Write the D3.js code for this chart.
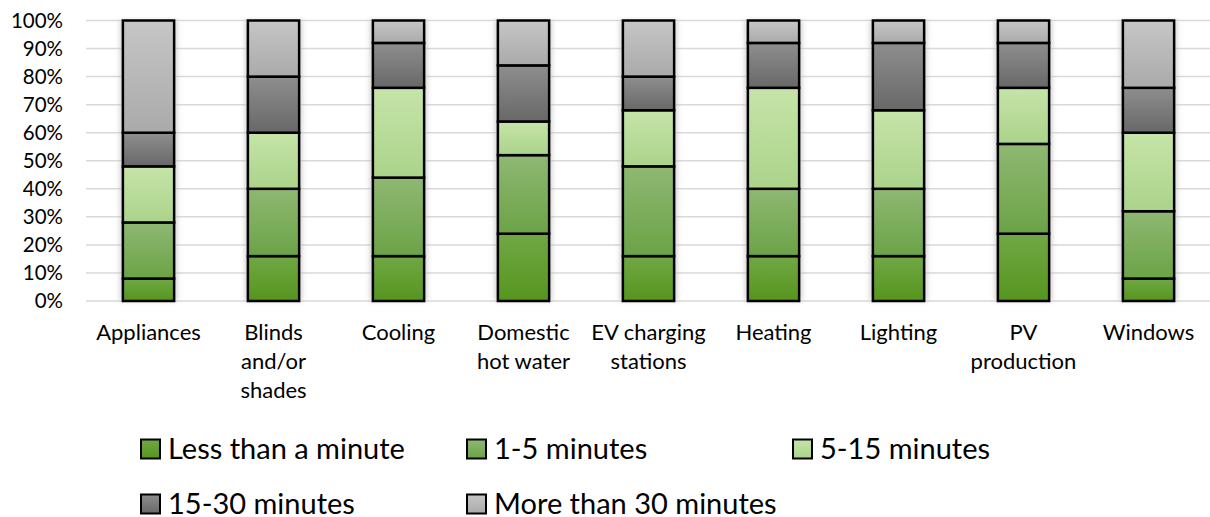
<!DOCTYPE html>
<html><head><meta charset="utf-8">
<script src="https://cdn.jsdelivr.net/npm/d3@7"></script>
<style>body{margin:0;background:#fff;}svg{display:block;font-family:Lato,"Open Sans",sans-serif;}</style>
</head><body>
<svg id="chart" width="1210" height="517"></svg>
<script>
const categories = ["Appliances","Blinds and/or shades","Cooling","Domestic hot water","EV charging stations","Heating","Lighting","PV production","Windows"];
const seriesNames = ["Less than a minute","1-5 minutes","5-15 minutes","15-30 minutes","More than 30 minutes"];
const lessThanMinute = [8,16,16,24,16,16,16,24,8];
const oneToFive      = [20,24,28,28,32,24,24,32,24];
const fiveToFifteen  = [20,20,32,12,20,36,28,20,28];
const fifteenToThirty= [12,20,16,20,12,16,24,16,16];
const moreThanThirty = [40,20,8,16,20,8,8,8,24];
const yTicks = [0,10,20,30,40,50,60,70,80,90,100];
const seriesValues = [lessThanMinute, oneToFive, fiveToFifteen, fifteenToThirty, moreThanThirty];
const gradStops = [["#70a845","#56951e"],["#8fb873","#6ba346"],["#c6e4a9","#abd38a"],["#8e8e8e","#686868"],["#c6c6c6","#aaaaaa"]];

(function(){
const svg = d3.select("#chart");
const mLeft = 86, mRight = 1211, mTop = 20.5, mBottom = 301;
const x = d3.scaleBand().domain(categories).range([mLeft, mRight]).paddingInner(0.59).paddingOuter(0.295);
const y = d3.scaleLinear().domain([0,100]).range([mBottom, mTop]);

const defs = svg.append("defs");
gradStops.forEach((g,i)=>{
  const lg = defs.append("linearGradient").attr("id","g"+i).attr("x1",0).attr("y1",0).attr("x2",0).attr("y2",1);
  lg.append("stop").attr("offset","0%").attr("stop-color",g[0]);
  lg.append("stop").attr("offset","100%").attr("stop-color",g[1]);
});
const f = defs.append("filter").attr("id","blur").attr("x","-50%").attr("y","-10%").attr("width","200%").attr("height","120%");
f.append("feGaussianBlur").attr("stdDeviation",2.5);

// gridlines
svg.append("g").selectAll("line").data(yTicks).join("line")
  .attr("x1",mLeft).attr("x2",1210).attr("y1",d=>y(d)).attr("y2",d=>y(d))
  .attr("stroke","#d9d9d9").attr("stroke-width",1.5);

// y labels
svg.append("g").selectAll("text").data(yTicks).join("text")
  .attr("x",63).attr("y",d=>y(d)).attr("dy","0.35em").attr("text-anchor","end")
  .attr("font-size",20.5).attr("fill","#000").text(d=>d+"%");

// stacked data
const rows = categories.map((c,i)=>{const o={cat:c}; seriesNames.forEach((s,j)=>o[s]=seriesValues[j][i]); return o;});
const stack = d3.stack().keys(seriesNames)(rows);

// shadows
svg.append("g").selectAll("rect").data(categories).join("rect")
  .attr("x",d=>x(d)-3).attr("width",x.bandwidth()+6).attr("y",y(100)).attr("height",y(0)-y(100))
  .attr("fill","#bbbbbb").attr("filter","url(#blur)").attr("opacity",0.7);

const bw = x.bandwidth();
stack.forEach((layer,i)=>{
  svg.append("g").selectAll("rect").data(layer).join("rect")
    .attr("x",d=>x(d.data.cat)).attr("width",bw)
    .attr("y",d=>y(d[1])).attr("height",d=>y(d[0])-y(d[1]))
    .attr("fill","url(#g"+i+")").attr("stroke","#000").attr("stroke-width",2.5);
});

// category labels with wrapping
const catG = svg.append("g");
categories.forEach(c=>{
  const t = catG.append("text").attr("text-anchor","middle").attr("font-size",22).attr("fill","#000");
  const words = c.split(" ");
  let lines=[], cur="";
  const tmp = catG.append("text").attr("font-size",22);
  words.forEach(w=>{
    const test = cur? cur+" "+w : w;
    tmp.text(test);
    if (tmp.node().getComputedTextLength() > 116 && cur){ lines.push(cur); cur=w; } else cur=test;
  });
  lines.push(cur); tmp.remove();
  lines.forEach((l,k)=>t.append("tspan").attr("x",x(c)+bw/2).attr("y",340+k*29).text(l));
});

// legend
const legPos = [[141,449],[467,449],[793,449],[141,504],[467,504]];
const lg = svg.append("g");
seriesNames.forEach((s,i)=>{
  const [lx,ly]=legPos[i];
  lg.append("rect").attr("x",lx).attr("y",ly-9.5).attr("width",19).attr("height",19)
    .attr("fill","url(#g"+i+")").attr("stroke","#000").attr("stroke-width",2);
  lg.append("text").attr("x",lx+27).attr("y",ly).attr("dy","0.36em").attr("font-size",29).attr("fill","#000").text(s);
});
})();
</script>
</body></html>
